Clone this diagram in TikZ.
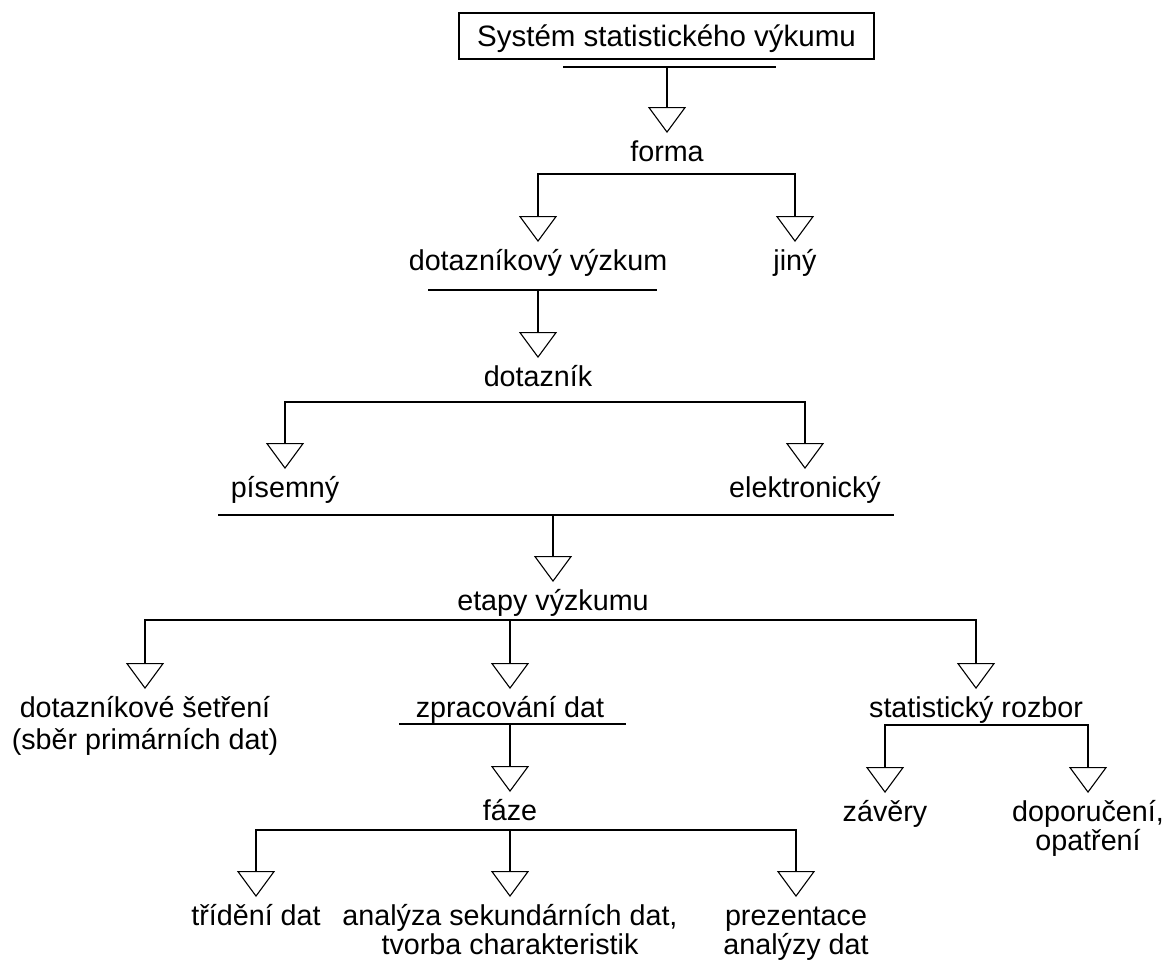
\documentclass[tikz,border=0pt]{standalone}
\usepackage{fontspec}
\setmainfont{Liberation Sans}
\usetikzlibrary{arrows.meta}
\newcommand{\Lh}{\rule{0pt}{22pt}}
\begin{document}
\begin{tikzpicture}[x=1pt,y=-1pt,
  lbl/.style={font=\fontsize{28.7}{29}\selectfont, inner xsep=0pt, inner ysep=6pt, outer sep=0pt, align=center, anchor=north},
  bar/.style={line width=1.6pt, line cap=rect},
  tri/.style={line width=1.6pt, -{Triangle[open, length=26pt, width=38pt, line width=1.1pt]}}
]
\useasboundingbox (0,0) rectangle (1176,962);

\node[draw, line width=1.6pt, minimum width=415pt, minimum height=46pt, inner sep=0pt,
      font=\fontsize{29.5}{29.5}\selectfont, text height=21pt, text depth=0pt] (sys) at (666.5,36) {Systém statistického výkumu};

\node[lbl] (forma) at (667,133) {\Lh forma};
\node[lbl] (dv) at (538,242) {\Lh dotazníkový výzkum};
\node[lbl] (jiny) at (795,242) {\Lh jiný};
\node[lbl] (dot) at (538,358) {\Lh dotazník};
\node[lbl] (pis) at (285,469) {\Lh písemný};
\node[lbl] (ele) at (805,469) {\Lh elektronický};
\node[lbl] (etapy) at (553,582) {\Lh etapy výzkumu};
\node[lbl, font=\fontsize{28.7}{32}\selectfont] (ds) at (145,689) {\Lh dotazníkové šetření\\(sběr primárních dat)};
\node[lbl] (zd) at (510,689) {\Lh zpracování dat};
\node[lbl] (sr) at (976,689) {\Lh statistický rozbor};
\node[lbl] (zav) at (885,793) {\Lh závěry};
\node[lbl] (dop) at (1088,793) {\Lh doporučení,\\opatření};
\node[lbl] (faze) at (510,792) {\Lh fáze};
\node[lbl] (trid) at (256,897) {\Lh třídění dat};
\node[lbl] (ana) at (510,897) {\Lh analýza sekundárních dat,\\tvorba charakteristik};
\node[lbl] (pre) at (796,897) {\Lh prezentace\\analýzy dat};

% bar and underline levels
\coordinate (u0L) at (564,67);  \coordinate (u0R) at (775,67);
\coordinate (b1) at (667,174);
\coordinate (u1L) at (429,290); \coordinate (u1R) at (656,290);
\coordinate (b2) at (538,402);
\coordinate (u2L) at (219,515); \coordinate (u2R) at (893,515);
\coordinate (b3) at (553,620);
\coordinate (u3L) at (400,724); \coordinate (u3R) at (625,724);
\coordinate (b4) at (975,725);
\coordinate (b5) at (510,830);

\draw[bar] (u0L) -- (u0R);
\draw[tri] (forma |- u0L) -- (forma.north);

\draw[bar] (dv |- b1) -- (jiny |- b1);
\draw[tri] (dv |- b1) -- (dv.north);
\draw[tri] (jiny |- b1) -- (jiny.north);

\draw[bar] (u1L) -- (u1R);
\draw[tri] (dot |- u1L) -- (dot.north);

\draw[bar] (pis |- b2) -- (ele |- b2);
\draw[tri] (pis |- b2) -- (pis.north);
\draw[tri] (ele |- b2) -- (ele.north);

\draw[bar] (u2L) -- (u2R);
\draw[tri] (etapy |- u2L) -- (etapy.north);

\draw[bar] (ds |- b3) -- (sr |- b3);
\draw[tri] (ds |- b3) -- (ds.north);
\draw[tri] (zd |- b3) -- (zd.north);
\draw[tri] (sr |- b3) -- (sr.north);

\draw[bar] (u3L) -- (u3R);
\draw[tri] (faze |- u3L) -- (faze.north);

\draw[bar] (zav |- b4) -- (dop |- b4);
\draw[tri] (zav |- b4) -- (zav.north);
\draw[tri] (dop |- b4) -- (dop.north);

\draw[bar] (trid |- b5) -- (pre |- b5);
\draw[tri] (trid |- b5) -- (trid.north);
\draw[tri] (ana |- b5) -- (ana.north);
\draw[tri] (pre |- b5) -- (pre.north);
\end{tikzpicture}
\end{document}
